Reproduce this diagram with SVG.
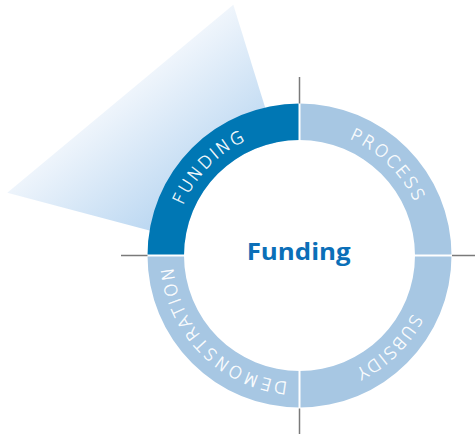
<svg xmlns="http://www.w3.org/2000/svg" xmlns:xlink="http://www.w3.org/1999/xlink" width="475" height="436" viewBox="0 0 475 436">
  <style>
    .seg-dark { fill: #0077b4; }
    .seg-light { fill: #a7c7e3; }
    .label { font-family: "DejaVu Sans", "Open Sans", "Liberation Sans", sans-serif; font-weight: 200; font-size: 17px; fill: #ffffff; stroke: #ffffff; stroke-width: 0.35; }
    .gap { stroke: #ffffff; stroke-width: 2; }
    .cross { stroke: #7a7a7a; stroke-width: 1.5; }
    .title { font-family: "Open Sans", "Liberation Sans", sans-serif; font-weight: 700; font-size: 24px; fill: #0b6fb8; }
  </style>
  <defs>
    <linearGradient id="wedgeGrad" gradientUnits="userSpaceOnUse" x1="85" y1="45" x2="230" y2="225">
      <stop offset="0" stop-color="#ffffff"/>
      <stop offset="0.2" stop-color="#f6f9fd"/>
      <stop offset="1" stop-color="#a9cdee"/>
    </linearGradient>
    <path id="arcFunding" d="M 172.52 257.72 A 127 127 0 0 1 297.28 128.52"/>
    <path id="arcProcess" d="M 297.28 128.52 A 127 127 0 0 1 426.48 253.28"/>
    <path id="arcSubsidy" d="M 426.5 256.61 A 127 127 0 0 1 298.39 382.5"/>
    <path id="arcDemo" d="M 299.5 382.5 A 127 127 0 0 1 172.5 255.5"/>
  </defs>

  <g id="highlight-wedge">
    <polygon points="7.3,192.7 233.3,4.7 317,275" fill="url(#wedgeGrad)"/>
  </g>

  <g id="center">
    <circle cx="299.5" cy="255.5" r="115.5" fill="#ffffff"/>
    <text class="title" x="298.7" y="260" text-anchor="middle" textLength="104" lengthAdjust="spacingAndGlyphs">Funding</text>
  </g>

  <g id="node-funding">
    <path class="seg-dark" d="M 147.5 255.5 A 152 152 0 0 1 299.5 103.5 L 299.5 140 A 115.5 115.5 0 0 0 184 255.5 Z"/>
    <text class="label"><textPath xlink:href="#arcFunding" href="#arcFunding" startOffset="50%" text-anchor="middle" textLength="92" lengthAdjust="spacing">FUNDING</textPath></text>
  </g>

  <g id="node-process">
    <path class="seg-light" d="M 299.5 103.5 A 152 152 0 0 1 451.5 255.5 L 415 255.5 A 115.5 115.5 0 0 0 299.5 140 Z"/>
    <text class="label"><textPath xlink:href="#arcProcess" href="#arcProcess" startOffset="50%" text-anchor="middle" textLength="93" lengthAdjust="spacing">PROCESS</textPath></text>
  </g>

  <g id="node-subsidy">
    <path class="seg-light" d="M 451.5 255.5 A 152 152 0 0 1 299.5 407.5 L 299.5 371 A 115.5 115.5 0 0 0 415 255.5 Z"/>
    <text class="label"><textPath xlink:href="#arcSubsidy" href="#arcSubsidy" startOffset="50%" text-anchor="middle" textLength="82" lengthAdjust="spacing">SUBSIDY</textPath></text>
  </g>

  <g id="node-demonstration">
    <path class="seg-light" d="M 299.5 407.5 A 152 152 0 0 1 147.5 255.5 L 184 255.5 A 115.5 115.5 0 0 0 299.5 371 Z"/>
    <text class="label"><textPath xlink:href="#arcDemo" href="#arcDemo" startOffset="50%" text-anchor="middle" textLength="176" lengthAdjust="spacing">DEMONSTRATION</textPath></text>
  </g>

  <g id="connectors">
    <line class="gap" x1="299.5" y1="102" x2="299.5" y2="141"/>
    <line class="gap" x1="299.5" y1="370" x2="299.5" y2="409"/>
    <line class="gap" x1="146" y1="255.5" x2="185" y2="255.5"/>
    <line class="gap" x1="414" y1="255.5" x2="453" y2="255.5"/>
    <line class="cross" x1="299.5" y1="77" x2="299.5" y2="103.5"/>
    <line class="cross" x1="299.5" y1="408.5" x2="299.5" y2="434"/>
    <line class="cross" x1="121" y1="255.5" x2="147.5" y2="255.5"/>
    <line class="cross" x1="452" y1="255.5" x2="475" y2="255.5"/>
  </g>
</svg>
